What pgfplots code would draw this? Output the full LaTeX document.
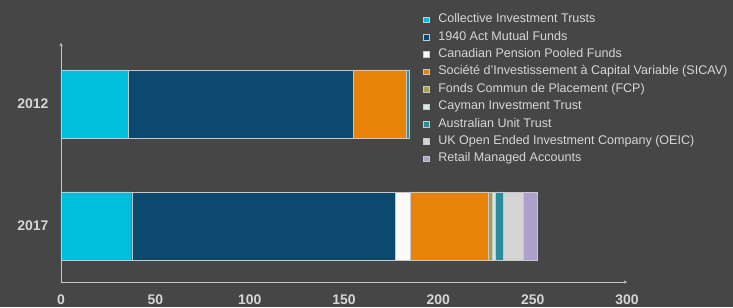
\documentclass[border=0pt]{standalone}
\usepackage{fontspec}
\setmainfont{Liberation Sans}
\usepackage{pgfplots}
\pgfplotsset{compat=1.18}
\usetikzlibrary{arrows.meta}
\definecolor{bg}{HTML}{464646}
\definecolor{txt}{HTML}{D6D6D6}
\definecolor{axl}{HTML}{C8C8C8}
\definecolor{cCIT}{HTML}{00BEDD}
\definecolor{cAct}{HTML}{0B4A6E}
\definecolor{cCan}{HTML}{FAFAFA}
\definecolor{cSIC}{HTML}{E8830A}
\definecolor{cFCP}{HTML}{A9A04A}
\definecolor{cCay}{HTML}{D3E9E9}
\definecolor{cAUT}{HTML}{2B8C9C}
\definecolor{cUK}{HTML}{D4D4D4}
\definecolor{cRMA}{HTML}{AE9FCC}
\pgfplotsset{leg/.style={legend image code/.code={\fill[##1] (0bp,-2.8bp) rectangle (5.6bp,2.8bp);}}}
\begin{document}
\begin{tikzpicture}
\fill[bg] (-61bp,-25bp) rectangle (672bp,282bp);
\begin{axis}[
  at={(0,0)}, anchor=south west,
  scale only axis, width=566bp, height=239bp,
  xbar stacked, bar width=0.56,
  xmin=0, xmax=300, ymin=-0.459, ymax=1.5,
  xtick={0,50,...,300}, ytick={0,1}, yticklabels={2017,2012},
  axis x line=bottom, axis y line=left,
  axis line style={axl, line width=0.9pt, -{Stealth[length=3pt,width=3pt]}},
  major tick length=0pt,
  /pgf/number format/assume math mode=true,
  ticklabel style={font=\fontsize{14}{16}\selectfont\bfseries, text=txt},
  xticklabel style={yshift=-9bp},
  yticklabel style={xshift=-9bp},
  legend style={draw=none, fill=none, inner sep=0pt, outer sep=0pt,
    at={(rel axis cs:0.6396,1.123)}, anchor=north west,
    font=\fontsize{12.6}{13}\selectfont, text=txt,
    nodes={inner sep=0pt, text height=9bp, text depth=3bp, text=txt},
    row sep=5.4bp,
    /tikz/every odd column/.append style={column sep=9.2bp}},
  legend cell align=left,
]
\addplot+[xbar, fill=cCIT, draw=axl, line width=0.5pt, leg] coordinates {(37.5,0) (35.5,1)};
\addplot+[xbar, fill=cAct, draw=axl, line width=0.5pt, leg] coordinates {(139.9,0) (119.3,1)};
\addplot+[xbar, fill=cCan, draw=axl, line width=0.5pt, leg] coordinates {(7.9,0) (0,1)};
\addplot+[xbar, fill=cSIC, draw=axl, line width=0.5pt, leg] coordinates {(41.2,0) (28.1,1)};
\addplot+[xbar, fill=cFCP, draw=axl, line width=0.5pt, leg] coordinates {(2.1,0) (0,1)};
\addplot+[xbar, fill=cCay, draw=axl, line width=0.5pt, leg] coordinates {(1.4,0) (0,1)};
\addplot+[xbar, fill=cAUT, draw=axl, line width=0.5pt, leg] coordinates {(4.4,0) (1.8,1)};
\addplot+[xbar, fill=cUK, draw=axl, line width=0.5pt, leg] coordinates {(10.6,0) (0,1)};
\addplot+[xbar, fill=cRMA, draw=axl, line width=0.5pt, leg] coordinates {(7.5,0) (0,1)};
\legend{Collective Investment Trusts, 1940 Act Mutual Funds, Canadian Pension Pooled Funds, Société d’Investissement à Capital Variable (SICAV), Fonds Commun de Placement (FCP), Cayman Investment Trust, Australian Unit Trust, UK Open Ended Investment Company (OEIC), Retail Managed Accounts}
\end{axis}
\end{tikzpicture}
\end{document}
